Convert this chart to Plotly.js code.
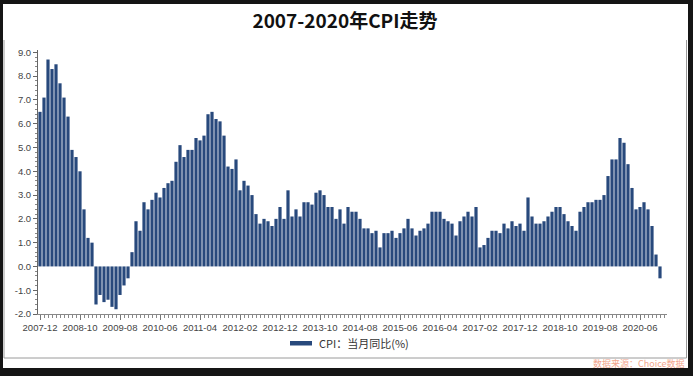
<!DOCTYPE html>
<html>
<head>
<meta charset="utf-8">
<script src="https://cdn.plot.ly/plotly-3.0.1.min.js"></script>
<style>
html,body{margin:0;padding:0;background:#151515;}
#chart{width:693px;height:376px;}
</style>
</head>
<body>
<div id="chart"></div>
<script>
// CPI month-on-year (当月同比, %) from 2007-12 to 2020-11
const startYear = 2007, startMonth = 12;
const cpi2007 = [6.5];
const cpi2008 = [7.1, 8.7, 8.3, 8.5, 7.7, 7.1, 6.3, 4.9, 4.6, 4.0, 2.4, 1.2];
const cpi2009 = [1.0, -1.6, -1.2, -1.5, -1.4, -1.7, -1.8, -1.2, -0.8, -0.5, 0.6, 1.9];
const cpi2010 = [1.5, 2.7, 2.4, 2.8, 3.1, 2.9, 3.3, 3.5, 3.6, 4.4, 5.1, 4.6];
const cpi2011 = [4.9, 4.9, 5.4, 5.3, 5.5, 6.4, 6.5, 6.2, 6.1, 5.5, 4.2, 4.1];
const cpi2012 = [4.5, 3.2, 3.6, 3.4, 3.0, 2.2, 1.8, 2.0, 1.9, 1.7, 2.0, 2.5];
const cpi2013 = [2.0, 3.2, 2.1, 2.4, 2.1, 2.7, 2.7, 2.6, 3.1, 3.2, 3.0, 2.5];
const cpi2014 = [2.5, 2.0, 2.4, 1.8, 2.5, 2.3, 2.3, 2.0, 1.6, 1.6, 1.4, 1.5];
const cpi2015 = [0.8, 1.4, 1.4, 1.5, 1.2, 1.4, 1.6, 2.0, 1.6, 1.3, 1.5, 1.6];
const cpi2016 = [1.8, 2.3, 2.3, 2.3, 2.0, 1.9, 1.8, 1.3, 1.9, 2.1, 2.3, 2.1];
const cpi2017 = [2.5, 0.8, 0.9, 1.2, 1.5, 1.5, 1.4, 1.8, 1.6, 1.9, 1.7, 1.8];
const cpi2018 = [1.5, 2.9, 2.1, 1.8, 1.8, 1.9, 2.1, 2.3, 2.5, 2.5, 2.2, 1.9];
const cpi2019 = [1.7, 1.5, 2.3, 2.5, 2.7, 2.7, 2.8, 2.8, 3.0, 3.8, 4.5, 4.5];
const cpi2020 = [5.4, 5.2, 4.3, 3.3, 2.4, 2.5, 2.7, 2.4, 1.7, 0.5, -0.5];

const cpiValues = [].concat(cpi2007, cpi2008, cpi2009, cpi2010, cpi2011, cpi2012,
  cpi2013, cpi2014, cpi2015, cpi2016, cpi2017, cpi2018, cpi2019, cpi2020);

// month labels for each bar
const months = [];
{
  let y = startYear, m = startMonth;
  for (let i = 0; i < cpiValues.length; i++) {
    months.push(y + '-' + String(m).padStart(2, '0'));
    m++; if (m > 12) { m = 1; y++; }
  }
}
const tickLabels = ['2007-12','2008-10','2009-08','2010-06','2011-04','2012-02','2012-12',
  '2013-10','2014-08','2015-06','2016-04','2017-02','2017-12','2018-10','2019-08','2020-06'];
const yTicks = [-2, -1, 0, 1, 2, 3, 4, 5, 6, 7, 8, 9];

const seriesName = 'CPI：当月同比(%)';
const titleText = '2007-2020年CPI走势';
const sourceText = '数据来源：Choice数据';

const xIdx = months.map((_, i) => i);
const tickIdx = tickLabels.map(t => months.indexOf(t));

const barColor = '#28497c';
const tickFont = {family: 'Liberation Sans, Arial, sans-serif', size: 9.5, color: '#444'};

// paper-coordinate helpers (plot area: x 38..667, y 50..314 px)
const L = 38, R = 667, T = 50, B = 314;
const px = x => (x - L) / (R - L);
const py = y => (B - y) / (B - T);

const trace = {
  type: 'bar',
  x: xIdx,
  y: cpiValues,
  name: seriesName,
  marker: {color: barColor, line: {width: 0}},
  showlegend: false,
  hovertext: months,
  hoverinfo: 'text+y'
};

const layout = {
  width: 693, height: 376,
  margin: {l: L, r: 693 - R, t: T, b: 376 - B, pad: 0},
  paper_bgcolor: '#151515',
  plot_bgcolor: 'rgba(0,0,0,0)',
  bargap: 0.2,
  title: {
    text: titleText,
    x: 345 / 693, xanchor: 'center',
    y: 1 - 21 / 376, yanchor: 'middle',
    font: {family: 'Noto Sans CJK SC, sans-serif', size: 19, color: '#111', weight: 'bold'}
  },
  xaxis: {
    type: 'linear',
    range: [-0.5, 156.75],
    tickmode: 'array',
    tickvals: tickIdx,
    ticktext: tickLabels,
    ticks: 'outside', ticklen: 5, tickwidth: 1, tickcolor: '#777',
    minor: {tickmode: 'linear', tick0: 0, dtick: 1, ticks: 'outside', ticklen: 3, tickcolor: '#888', showgrid: false},
    showline: true, linecolor: '#888', linewidth: 1,
    showgrid: false, zeroline: false,
    tickfont: tickFont,
    fixedrange: true
  },
  yaxis: {
    range: [-2, 9.1],
    tickmode: 'array',
    tickvals: yTicks,
    ticktext: yTicks.map(v => v.toFixed(1)),
    ticks: 'outside', ticklen: 4, tickwidth: 1, tickcolor: '#666',
    minor: {tickmode: 'linear', tick0: 0, dtick: 0.2, ticks: 'outside', ticklen: 2, tickcolor: '#888', showgrid: false},
    showline: true, linecolor: '#666', linewidth: 1,
    showgrid: false, zeroline: false,
    tickfont: tickFont,
    fixedrange: true
  },
  shapes: [
    // white canvas
    {type: 'rect', xref: 'paper', yref: 'paper', layer: 'below',
     x0: px(3), x1: px(688), y0: py(368), y1: py(4),
     fillcolor: '#ffffff', line: {width: 0}},
    // inner chart frame (left, bottom, right)
    {type: 'path', xref: 'paper', yref: 'paper', layer: 'below',
     path: `M ${px(4)} ${py(40)} L ${px(4)} ${py(358)} L ${px(686.5)} ${py(358)} L ${px(686.5)} ${py(40)}`,
     line: {color: '#9a9a9a', width: 1}},
    // legend swatch
    {type: 'rect', xref: 'paper', yref: 'paper',
     x0: px(290), x1: px(312), y0: py(345.5), y1: py(341),
     fillcolor: barColor, line: {width: 0}}
  ],
  annotations: [
    {xref: 'paper', yref: 'paper', x: px(317), y: py(343), xanchor: 'left', yanchor: 'middle',
     text: seriesName, showarrow: false,
     font: {family: 'Noto Sans CJK SC, sans-serif', size: 11, color: '#333'}},
    {xref: 'paper', yref: 'paper', x: px(687), y: py(363), xanchor: 'right', yanchor: 'middle',
     text: sourceText, showarrow: false,
     font: {family: 'Noto Sans CJK SC, sans-serif', size: 9, color: '#f2a58c'}}
  ]
};

Plotly.newPlot('chart', [trace], layout, {displayModeBar: false, staticPlot: true});
</script>
</body>
</html>
